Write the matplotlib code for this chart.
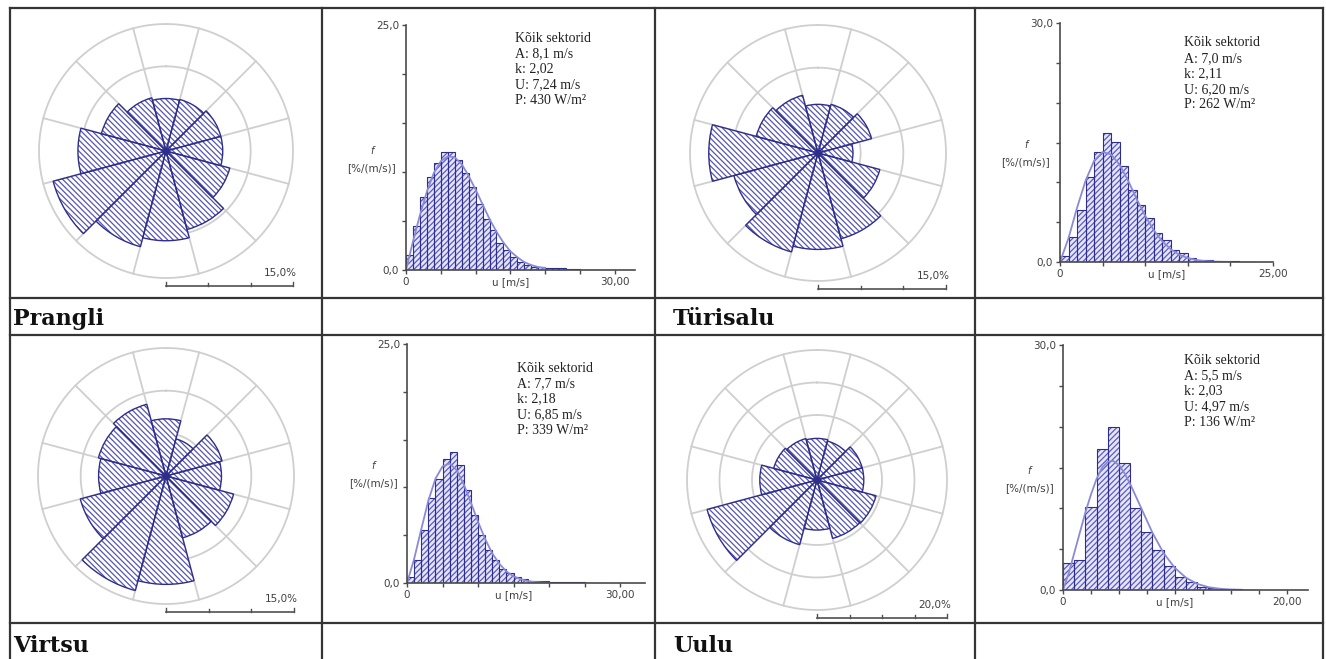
import matplotlib
matplotlib.use("Agg")
import matplotlib.pyplot as plt
import numpy as np

W, H = 1326, 659

# --- data ---
stations = ["Prangli", "Türisalu", "Virtsu", "Uulu"]
directions = np.arange(0, 360, 30)          # sector centres, deg from N

rose_prangli = [6.2, 6.3, 6.7, 6.7, 7.8, 9.6, 10.6, 11.7, 13.8, 10.4, 7.9, 6.5]
rose_turisalu = [5.7, 5.9, 6.5, 4.1, 7.5, 10.4, 11.3, 12.0, 10.2, 12.8, 7.5, 7.0]
rose_virtsu = [6.7, 4.5, 6.8, 6.5, 8.2, 7.5, 12.7, 13.9, 10.4, 7.9, 8.2, 8.7]
rose_uulu = [6.4, 6.2, 7.2, 7.2, 9.4, 9.3, 7.7, 10.3, 17.5, 8.8, 6.9, 6.6]
rose_scale = [15, 15, 15, 20]

# histogram, 1 m/s bins starting at 0
hist_prangli = [1.5, 4.5, 7.5, 9.5, 10.9, 12.0, 12.0, 11.2, 9.9, 8.5, 6.7, 5.2, 4.1, 2.8,
                2.0, 1.3, 0.8, 0.5, 0.35, 0.3, 0.25, 0.2, 0.2, 0.15, 0.1, 0.05, 0.05, 0.03]
hist_turisalu = [0.8, 3.2, 6.5, 10.7, 13.8, 16.2, 15.1, 12.0, 9.0, 7.2, 5.5, 3.6, 2.7, 1.5,
                 1.1, 0.5, 0.3, 0.2, 0.15, 0.1, 0.1, 0.05, 0.05]
hist_virtsu = [0.6, 2.4, 5.5, 8.9, 10.9, 13.0, 13.7, 12.3, 9.7, 7.1, 5.0, 3.4, 2.4, 1.5,
               1.0, 0.66, 0.4, 0.25, 0.2, 0.2, 0.15, 0.15, 0.1, 0.1, 0.1, 0.05, 0.05, 0.05]
hist_uulu = [3.3, 3.7, 10.2, 17.3, 20.0, 15.5, 10.0, 7.1, 4.9, 2.9, 1.6, 1.0, 0.4, 0.2,
             0.1, 0.1, 0.05]

# fitted curve as seen
curve_u = [0, 1, 2, 3, 4, 5, 6, 7, 8, 9, 10, 11, 12, 13, 14, 15, 16, 17, 18, 19, 20]
curve_prangli = [0, 2.9, 5.6, 8.0, 9.9, 11.1, 11.6, 11.5, 10.8, 9.6, 8.2, 6.7, 5.2, 3.9,
                 2.8, 1.9, 1.3, 0.8, 0.5, 0.3, 0.2]
curve_turisalu = [0, 3.0, 6.8, 10.2, 12.7, 13.8, 13.5, 12.2, 10.2, 7.9, 5.8, 4.0, 2.6, 1.6,
                  0.9, 0.5, 0.25, 0.12, 0.05, 0.02, 0.01]
curve_virtsu = [0, 2.5, 5.6, 8.6, 10.9, 12.2, 12.5, 11.8, 10.3, 8.4, 6.4, 4.6, 3.1, 2.0,
                1.2, 0.7, 0.4, 0.2, 0.1, 0.05, 0.02]
curve_u_uulu = [0, 0.5, 1, 1.5, 2, 2.5, 3, 3.5, 4, 4.5, 5, 5.5, 6, 7, 8, 9, 10, 11, 12, 13, 14, 15, 16]
curve_uulu = [0, 2.0, 4.5, 7.0, 9.5, 11.7, 13.6, 15.0, 15.7, 15.8, 15.3, 14.3, 13.0, 10.0,
              7.0, 4.5, 2.7, 1.5, 0.75, 0.35, 0.15, 0.06, 0.02]

hist_ymax = [25, 30, 25, 30]
hist_xmax = [32.9, 25, 33.5, 21.9]
hist_xlabel = [30, 25, 30, 20]
hist_xstep = [5, 5, 5, 2.5]

stats = [
    ["Kõik sektorid", "A: 8,1 m/s", "k: 2,02", "U: 7,24 m/s", "P: 430 W/m²"],
    ["Kõik sektorid", "A: 7,0 m/s", "k: 2,11", "U: 6,20 m/s", "P: 262 W/m²"],
    ["Kõik sektorid", "A: 7,7 m/s", "k: 2,18", "U: 6,85 m/s", "P: 339 W/m²"],
    ["Kõik sektorid", "A: 5,5 m/s", "k: 2,03", "U: 4,97 m/s", "P: 136 W/m²"],
]

roses = [rose_prangli, rose_turisalu, rose_virtsu, rose_uulu]
hists = [hist_prangli, hist_turisalu, hist_virtsu, hist_uulu]
curves = [(curve_u, curve_prangli), (curve_u, curve_turisalu),
          (curve_u, curve_virtsu), (curve_u_uulu, curve_uulu)]

# --- layout (pixels) ---
rose_pos = [(166, 151, 127), (818, 153, 128), (166, 476, 128), (817, 480, 130)]
hist_box = [(406, 270, 635, 25), (1060, 262, 1273, 23), (407, 583, 645, 344), (1063, 590, 1308, 345)]
stat_off = [(109, 13), (124, 20), (110, 24), (121, 15)]
label_pos = [(13, 325), (673, 325), (13, 652), (673, 652)]

navy = "#2e2e8a"
hatch_rose = "#5656b4"
hatch_hist = "#5a5ac4"
ring = "#cfcfcf"
gridc = "#353535"

plt.rcParams["hatch.linewidth"] = 0.9


def px_rect(x0, y0, x1, y1):
    return [x0 / W, 1 - y1 / H, (x1 - x0) / W, (y1 - y0) / H]


fig = plt.figure(figsize=(W / 100, H / 100), dpi=100)
fig.patch.set_facecolor("white")

ov = fig.add_axes([0, 0, 1, 1], zorder=0)
ov.set_xlim(0, W)
ov.set_ylim(H, 0)
ov.axis("off")

# table lines
for x in [10, 322, 655, 975, 1323]:
    ov.plot([x, x], [8, H], color=gridc, lw=1.6)
for y in [8, 298, 335, 623]:
    ov.plot([10, 1323], [y, y], color=gridc, lw=1.6)

for i in range(4):
    # wind rose
    cx, cy, R = rose_pos[i]
    rmax = rose_scale[i]
    ax = fig.add_axes(px_rect(cx - R, cy - R, cx + R, cy + R), projection="polar", zorder=2)
    ax.set_theta_zero_location("N")
    ax.set_theta_direction(-1)
    ax.set_ylim(0, rmax)
    ax.axis("off")
    th = np.linspace(0, 2 * np.pi, 361)
    for r in range(5, rmax + 1, 5):
        ax.plot(th, np.full_like(th, r), color=ring, lw=1.3, clip_on=False, zorder=1)
    for a in np.deg2rad(np.arange(15, 360, 30)):
        ax.plot([a, a], [0, rmax], color=ring, lw=1.3, clip_on=False, zorder=1)
    ax.bar(np.deg2rad(directions), roses[i], width=np.deg2rad(30), bottom=0,
           facecolor="white", edgecolor=hatch_rose, hatch="\\" * 6, lw=0, zorder=3)
    ax.bar(np.deg2rad(directions), roses[i], width=np.deg2rad(30), bottom=0,
           facecolor="none", edgecolor=navy, lw=1.0, zorder=4)
    ax.plot([0], [0], "o", ms=4, color=navy, zorder=5)

    # scale bar
    by = cy + R + 8
    ov.plot([cx, cx + R], [by, by], color="#505050", lw=1.2)
    nseg = rmax // 5
    for s in range(nseg + 1):
        tl = 4 if s in (0, nseg) else 3
        ov.plot([cx + R * s / nseg] * 2, [by, by - tl], color="#505050", lw=1.0)
    ov.text(cx + R + 4, by - 13, "%d,0%%" % rmax, ha="right", va="center",
            fontsize=7.5, color="#404040")

    # station label
    lx, ly = label_pos[i]
    ov.text(lx, ly, stations[i], ha="left", va="baseline", fontsize=16,
            fontweight="bold", family="DejaVu Serif", color="#111111")

    # histogram
    x0, y0, x1, y1 = hist_box[i]
    ha = fig.add_axes(px_rect(x0, y1, x1, y0), zorder=2)
    ha.set_facecolor("none")
    vals = hists[i]
    bins = np.arange(len(vals))
    ha.bar(bins, vals, width=1.0, align="edge", facecolor="#e6e6f8",
           edgecolor=hatch_hist, hatch="/" * 6, lw=0, zorder=2)
    ha.bar(bins, vals, width=1.0, align="edge", facecolor="none",
           edgecolor=navy, lw=0.8, zorder=2.5)
    cu, cf = curves[i]
    ha.plot(cu, cf, color="#8a8ad8", lw=1.3, zorder=3)
    ha.set_xlim(0, hist_xmax[i])
    ha.set_ylim(0, hist_ymax[i])
    for s in ["top", "right"]:
        ha.spines[s].set_visible(False)
    for s in ["left", "bottom"]:
        ha.spines[s].set_color("#4a4a4a")
        ha.spines[s].set_linewidth(1.2)
        ha.spines[s].set_zorder(4)
    xt = np.arange(0, hist_xmax[i] + 0.01, hist_xstep[i])
    ha.set_xticks(xt)
    ha.set_xticklabels(["0" if v == 0 else ("%d,00" % hist_xlabel[i] if abs(v - hist_xlabel[i]) < 1e-6 else "")
                        for v in xt])
    yt = np.arange(0, hist_ymax[i] + 0.01, 5)
    ha.set_yticks(yt)
    ha.set_yticklabels(["0,0" if v == 0 else ("%d,0" % hist_ymax[i] if v == hist_ymax[i] else "")
                        for v in yt])
    ha.tick_params(length=3, width=1, color="#4a4a4a", labelsize=7.5,
                   labelcolor="#404040", pad=2)
    ha.annotate("u [m/s]", xy=(hist_xlabel[i] / 2, 0), xycoords=("data", "axes fraction"),
                xytext=(0, -5), textcoords="offset points", ha="center", va="top",
                fontsize=7.5, color="#404040")

    # f label
    fy = y0 - 0.45 * (y0 - y1)
    ov.text(x0 - 34, fy - 9, "f", ha="center", va="center", fontsize=7, color="#404040",
            style="italic")
    ov.text(x0 - 34, fy + 8, "[%/(m/s)]", ha="center", va="center", fontsize=7.5,
            color="#404040")

    # stats box
    dx, dy = stat_off[i]
    for j, line in enumerate(stats[i]):
        ov.text(x0 + dx, y1 + dy + 15.5 * j, line, ha="left", va="center", fontsize=10,
                family="Liberation Serif", color="#222222")

fig.savefig("out.png", dpi=100)
